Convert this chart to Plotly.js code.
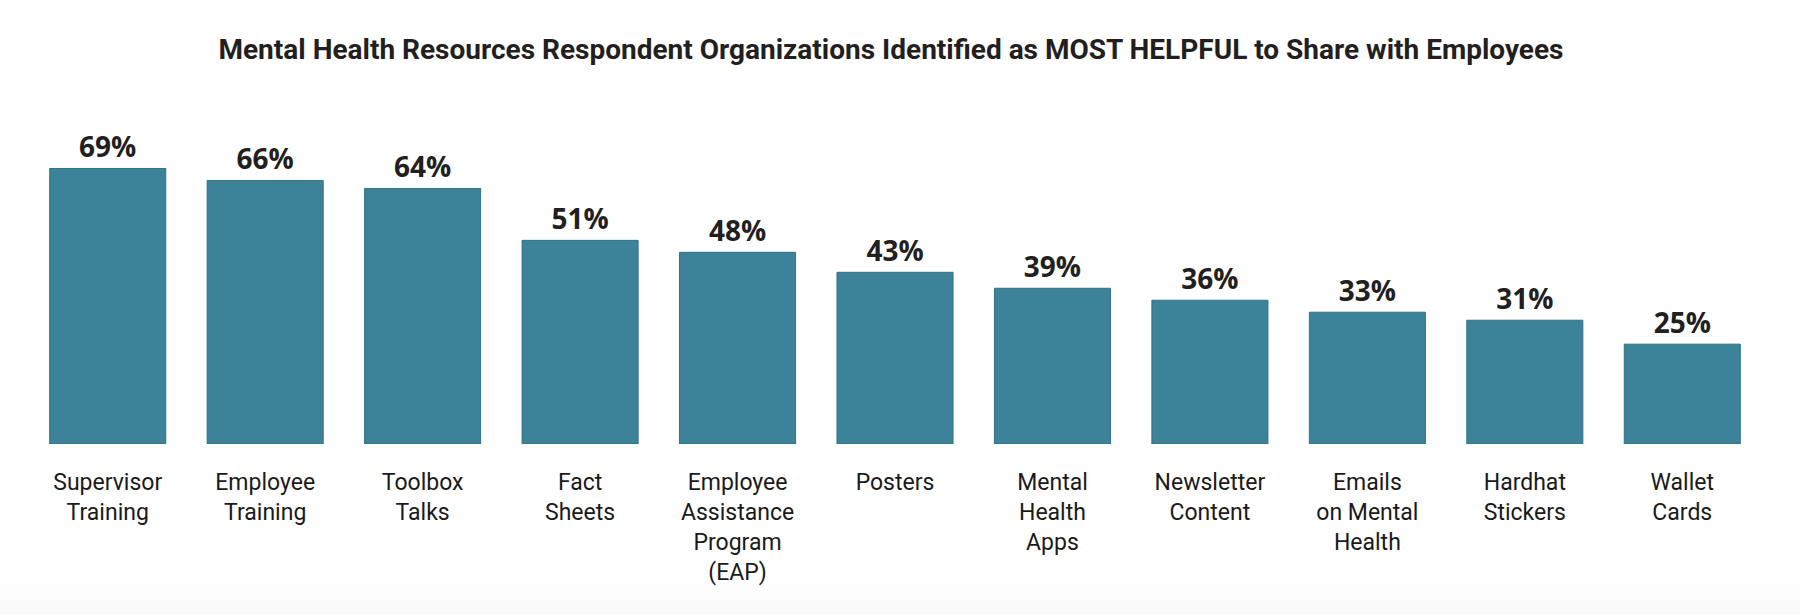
<!DOCTYPE html>
<html>
<head>
<meta charset="utf-8">
<script src="https://cdn.plot.ly/plotly-3.0.1.min.js"></script>
<style>html,body{margin:0;padding:0;background:#fff;}#chart{width:1800px;height:615px;}</style>
</head>
<body>
<div id="chart"></div>
<script>
const categories = [
  "Supervisor<br>Training",
  "Employee<br>Training",
  "Toolbox<br>Talks",
  "Fact<br>Sheets",
  "Employee<br>Assistance<br>Program<br>(EAP)",
  "Posters",
  "Mental<br>Health<br>Apps",
  "Newsletter<br>Content",
  "Emails<br>on Mental<br>Health",
  "Hardhat<br>Stickers",
  "Wallet<br>Cards"
];
const values = [69, 66, 64, 51, 48, 43, 39, 36, 33, 31, 25];
const titleText = "Mental Health Resources Respondent Organizations Identified as MOST HELPFUL to Share with Employees";

const trace = {
  type: "bar",
  x: categories,
  y: values,
  marker: {color: "#3c8299", line: {color: "#2f7189", width: 1}},
  texttemplate: "<b>%{y}%</b>",
  textposition: "outside",
  cliponaxis: false,
  textfont: {family: "'Open Sans', Lato, sans-serif", size: 28, color: "#231f20"},
  hoverinfo: "skip"
};

const layout = {
  width: 1800,
  height: 615,
  paper_bgcolor: "#ffffff",
  plot_bgcolor: "#ffffff",
  margin: {l: 29, r: 39, t: 100, b: 171},
  bargap: 0.263,
  showlegend: false,
  title: {
    text: "<b>" + titleText + "</b>",
    x: 0.495,
    xanchor: "center",
    y: 0.92,
    yanchor: "middle",
    font: {family: "Roboto, 'Open Sans', sans-serif", size: 28, color: "#231f20"}
  },
  xaxis: {
    showgrid: false,
    zeroline: false,
    showline: false,
    ticks: "",
    ticklabelstandoff: 22,
    tickfont: {family: "Roboto, 'Open Sans', sans-serif", size: 23, color: "#1a1a1a"},
    fixedrange: true
  },
  yaxis: {
    range: [0, 86.15],
    visible: false,
    showgrid: false,
    zeroline: false,
    fixedrange: true
  },
  shapes: [
    {type: "rect", xref: "paper", yref: "paper", x0: -0.02, x1: 1.03, y0: -0.50, y1: -0.410,
     fillcolor: "#fdfdfd", line: {width: 0}, layer: "below"},
    {type: "rect", xref: "paper", yref: "paper", x0: -0.02, x1: 1.03, y0: -0.50, y1: -0.455,
     fillcolor: "#fafafa", line: {width: 0}, layer: "below"}
  ]
};

Plotly.newPlot("chart", [trace], layout, {displayModeBar: false, staticPlot: true});
</script>
</body>
</html>
